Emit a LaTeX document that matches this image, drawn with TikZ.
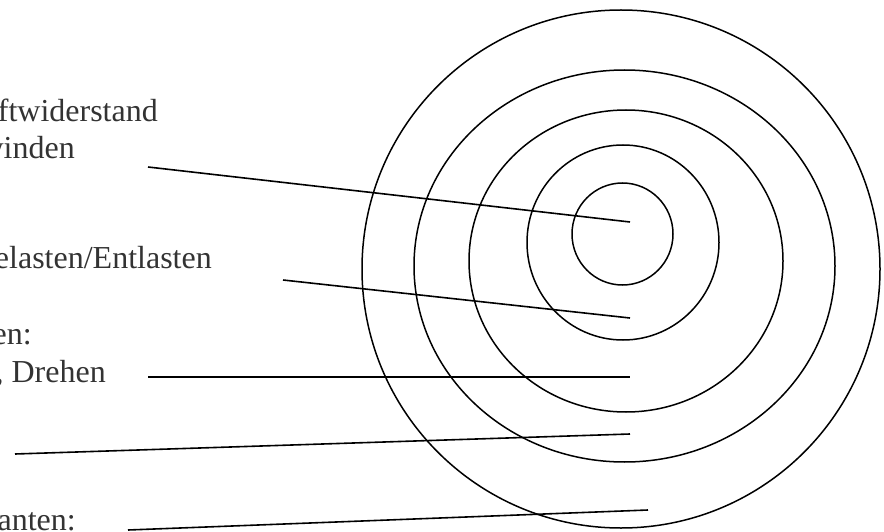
\documentclass[tikz,border=0pt]{standalone}
\usepackage{fontspec}
\setmainfont{Liberation Serif}
\begin{document}
\begin{tikzpicture}[x=1pt,y=-1pt,
  lbl/.style={anchor=base east,inner sep=0pt,text=black!80,font=\fontsize{32}{38}\selectfont},
  ring/.style={draw=black,line width=1.5pt},
  lead/.style={draw=black,line width=1.6pt}]
\useasboundingbox (0,0) rectangle (884,532);
\clip (0,0) rectangle (884,532);
% rings
\draw[ring] (621,269) ellipse [x radius=259,y radius=259];
\draw[ring] (624.5,266) ellipse [x radius=210.5,y radius=196];
\draw[ring] (626,261) ellipse [x radius=157,y radius=151];
\draw[ring] (623,242.5) ellipse [x radius=96,y radius=97.5];
\draw[ring] (622.5,234) ellipse [x radius=50.5,y radius=51];
% labels
\node[lbl] (t1) at (158,122) {uftwiderstand};
\node[lbl] (t2) at (75,159) {winden};
\node[lbl] (t3) at (212,268) {elasten/Entlasten};
\node[lbl] (t4) at (32,344) {en:};
\node[lbl] (t5) at (106,382) {, Drehen};
\node[lbl] (t6) at (76,530) {anten:};
% leader end points
\coordinate (a1) at (148,167); \coordinate (b1) at (630,222);
\coordinate (a2) at (283,280); \coordinate (b2) at (630,318);
\coordinate (a3) at (148,377); \coordinate (b3) at (630,377);
\coordinate (a4) at (15,454);  \coordinate (b4) at (630,434);
\coordinate (a5) at (128,530); \coordinate (b5) at (648,510);
\draw[lead] (a1) -- (b1);
\draw[lead] (a2) -- (b2);
\draw[lead] (a3) -- (b3);
\draw[lead] (a4) -- (b4);
\draw[lead] (a5) -- (b5);
\end{tikzpicture}
\end{document}
